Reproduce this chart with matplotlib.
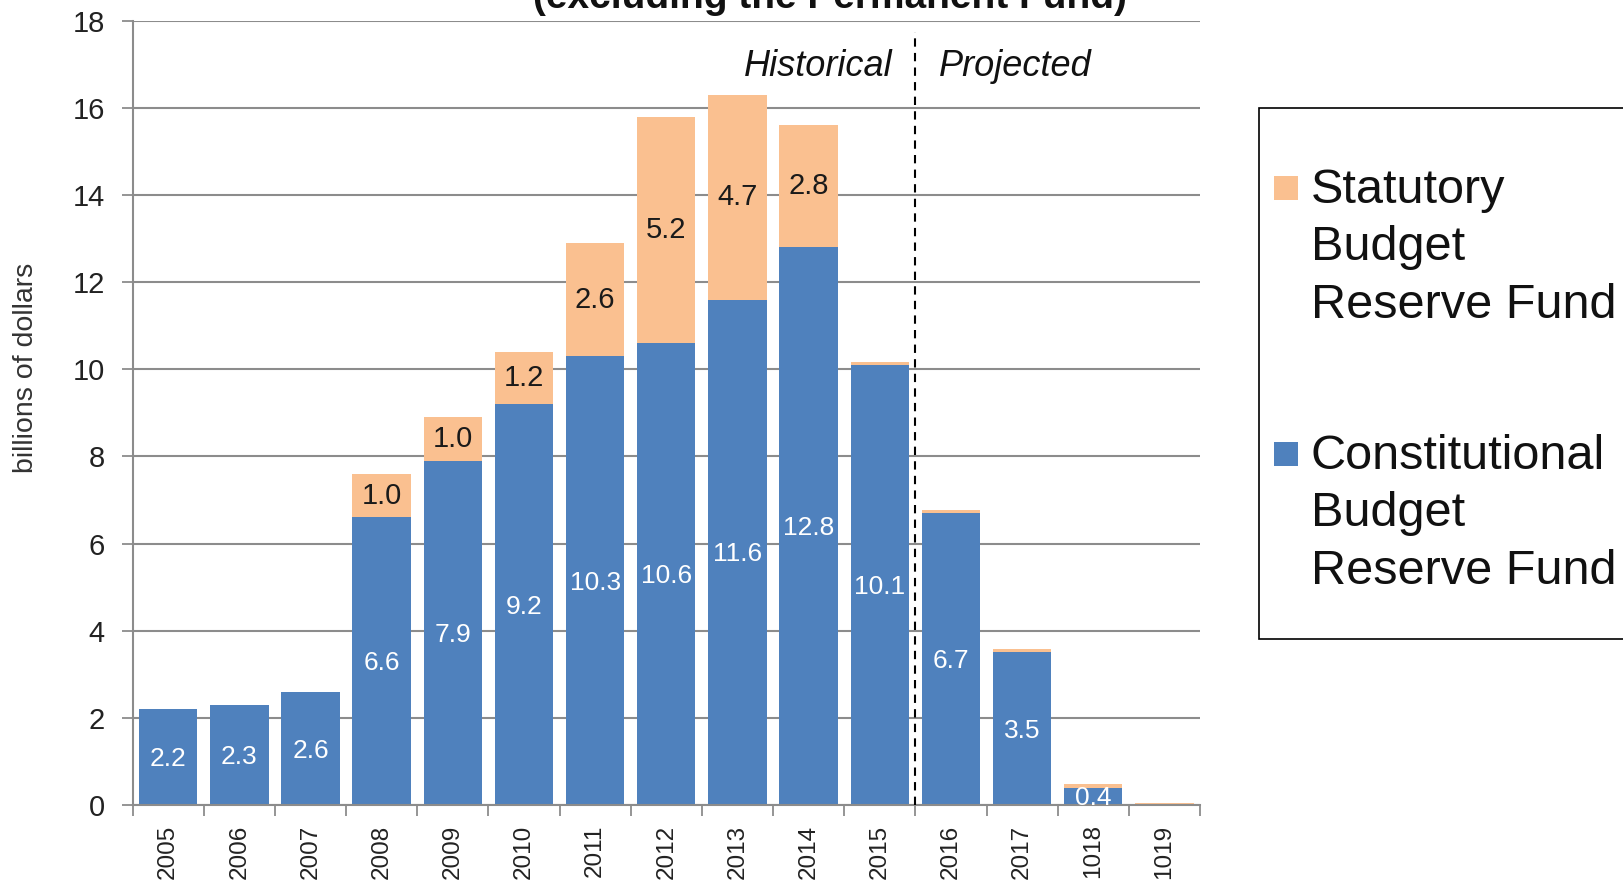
import matplotlib
matplotlib.use("Agg")
import matplotlib.pyplot as plt
from matplotlib.patches import Rectangle

plt.rcParams["font.family"] = ["Liberation Sans", "DejaVu Sans"]

# Fiscal years and fund balances (billions of dollars)
years = ["2005", "2006", "2007", "2008", "2009", "2010", "2011", "2012",
         "2013", "2014", "2015", "2016", "2017", "1018", "1019"]
constitutional = [2.2, 2.3, 2.6, 6.6, 7.9, 9.2, 10.3, 10.6, 11.6, 12.8,
                  10.1, 6.7, 3.5, 0.4, 0.0]
statutory = [0.0, 0.0, 0.0, 1.0, 1.0, 1.2, 2.6, 5.2, 4.7, 2.8,
             0.06, 0.07, 0.07, 0.08, 0.04]
constitutional_labels = [True] * 14 + [False]
statutory_labels = [False] * 3 + [True] * 7 + [False] * 5

legend_labels = ["Statutory\nBudget\nReserve Fund",
                 "Constitutional\nBudget\nReserve Fund"]
y_ticks = [0, 2, 4, 6, 8, 10, 12, 14, 16, 18]

BLUE = "#4F81BD"
ORANGE = "#FAC090"
GRID = "#8C8C8C"

W, H = 1624, 894
fig = plt.figure(figsize=(W / 100, H / 100), dpi=100)
ax = fig.add_axes([132.6 / W, 1 - 805 / H, (1200 - 132.6) / W, (805 - 20.7) / H])

x = list(range(len(years)))
bw = 0.82
ax.bar(x, constitutional, width=bw, color=BLUE, zorder=2)
ax.bar(x, statutory, width=bw, bottom=constitutional, color=ORANGE, zorder=2)

for i in x:
    if constitutional_labels[i]:
        ax.text(i, constitutional[i] / 2 - 0.05, f"{constitutional[i]:.1f}",
                ha="center", va="center", color="white", fontsize=19,
                zorder=3, clip_on=True)
    if statutory_labels[i]:
        ax.text(i, constitutional[i] + statutory[i] / 2, f"{statutory[i]:.1f}",
                ha="center", va="center", color="#1a1a1a", fontsize=21,
                zorder=3)

ax.set_xlim(-0.5, len(years) - 0.5)
ax.set_ylim(0, 18)
ax.set_yticks(y_ticks)
ax.set_yticklabels([str(t) for t in y_ticks], fontsize=21, color="#222222")
ax.yaxis.grid(True, color=GRID, linewidth=1.5, zorder=0)
ax.set_axisbelow(True)

ax.set_xticks([i - 0.5 for i in range(len(years) + 1)])
ax.set_xticklabels([])
ax.set_xticks(x, minor=True)
ax.set_xticklabels(years, minor=True, rotation=90, fontsize=17.5, color="#222222")
ax.tick_params(axis="x", which="minor", length=0, pad=14)
ax.tick_params(axis="x", which="major", length=8, width=1.3, color=GRID)
ax.tick_params(axis="y", length=8, width=1.3, color=GRID, pad=12)

for side in ["top", "right"]:
    ax.spines[side].set_visible(False)
for side in ["left", "bottom"]:
    ax.spines[side].set_color(GRID)
    ax.spines[side].set_linewidth(1.5)

# Historical / projected divider
ax.plot([10.5, 10.5], [0, 17.75], color="black", linewidth=1.5,
        linestyle=(0, (4, 3)), zorder=4)
ax.text(10.18, 16.72, "Historical", ha="right", va="baseline",
        fontsize=26, style="italic", color="#111111")
ax.text(10.83, 16.72, "Projected", ha="left", va="baseline",
        fontsize=26, style="italic", color="#111111")

fig.text(26 / W, 1 - 368 / H, "billions of dollars", rotation=90,
         ha="center", va="center", fontsize=20.5, color="#333333")

fig.text(830 / W, 1 - 7.5 / H, "(excluding the Permanent Fund)",
         ha="center", va="baseline", fontsize=28, weight="bold",
         color="#111111")

# Legend box
fig.patches.append(Rectangle((1259 / W, 1 - 639 / H), (1700 - 1259) / W,
                             (639 - 108) / H, transform=fig.transFigure,
                             facecolor="white", edgecolor="black",
                             linewidth=1.2, zorder=1))
for label, color, top in [(legend_labels[0], ORANGE, 168),
                          (legend_labels[1], BLUE, 434)]:
    fig.patches.append(Rectangle((1274 / W, 1 - (top + 32) / H), 24 / W, 24 / H,
                                 transform=fig.transFigure, facecolor=color,
                                 edgecolor="none", zorder=2))
    fig.text(1311 / W, 1 - top / H, label, ha="left", va="top",
             fontsize=35, color="#111111", linespacing=1.35, zorder=3)

fig.savefig("out.png", dpi=100)
